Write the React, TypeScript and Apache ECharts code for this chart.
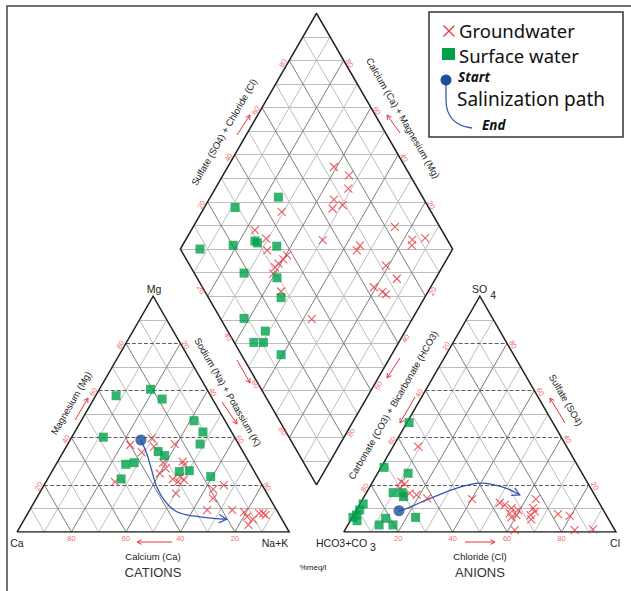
import React, { useEffect, useRef } from "react";
import * as echarts from "echarts";

// ---------------- Data (percent of meq/l) ----------------
const TICK_VALUES = [20, 40, 60, 80];
const GRID_PERCENTS = [10, 20, 30, 40, 50, 60, 70, 80, 90];
const DIAMOND_LEVELS = [10, 20, 30, 40, 50, 60, 70, 80, 90, 100, 110, 120, 130, 140, 150, 160, 170, 180, 190];

// Cations: [Ca, Mg, Na+K]
const groundwaterCations = [
  [30.7, 39.7, 29.6], [40.0, 36.9, 23.1], [37.3, 33.8, 28.9], [31.6, 36.2, 32.2],
  [23.4, 37.3, 39.3], [31.6, 29.4, 39.0], [31.9, 27.0, 41.1], [35.1, 24.9, 40.0],
  [24.2, 29.8, 46.0], [24.5, 28.4, 47.1], [31.6, 22.4, 46.0], [30.2, 21.3, 48.5],
  [27.6, 22.1, 50.3], [28.3, 23.5, 48.2], [53.4, 21.3, 25.3], [33.4, 16.4, 50.2],
  [18.9, 18.1, 63.0], [14.1, 19.9, 66.0], [20.9, 14.3, 64.8], [25.5, 9.3, 65.2],
  [16.3, 9.3, 74.4], [12.4, 8.4, 79.2], [12.3, 6.5, 81.2], [10.7, 5.4, 83.9],
  [13.5, 3.0, 83.5], [7.1, 7.9, 85.0], [5.6, 7.9, 86.5], [5.1, 7.2, 87.7],
];
const surfaceCations = [
  [20.7, 60.5, 18.8], [18.5, 56.4, 25.1], [34.7, 57.8, 7.5], [11.4, 47.2, 41.4],
  [10.5, 42.4, 47.1], [14.1, 37.3, 48.6], [48.2, 40.2, 11.6], [31.1, 34.1, 34.8],
  [29.6, 32.4, 38.0], [45.7, 28.7, 25.6], [42.3, 29.4, 28.3], [50.5, 22.5, 27.0],
  [27.6, 25.6, 46.8], [23.7, 26.0, 50.3], [17.1, 23.5, 59.4],
];

// Anions: [HCO3+CO3, SO4, Cl]
const groundwaterAnions = [
  [54.6, 36.2, 9.2], [68.2, 21.3, 10.5], [67.4, 20.4, 12.2], [70.2, 18.5, 11.3],
  [70.7, 15.0, 14.3], [67.6, 16.4, 16.0], [65.4, 15.7, 18.9], [62.2, 14.3, 23.5],
  [45.9, 13.9, 40.2], [36.5, 12.4, 51.1], [35.1, 11.5, 53.4], [33.3, 10.1, 56.6],
  [31.3, 9.3, 59.4], [35.1, 7.9, 57.0], [33.0, 7.2, 59.8], [35.3, 6.2, 58.5],
  [22.5, 13.9, 63.6], [25.4, 10.1, 64.5], [25.5, 8.6, 65.9], [27.8, 7.2, 65.0],
  [28.4, 5.4, 66.2], [17.5, 7.6, 74.9], [13.6, 6.8, 79.6], [36.8, 0.8, 62.4],
  [14.8, 0.8, 84.4], [7.9, 1.1, 91.0],
];
const surfaceAnions = [
  [52.8, 46.4, 0.8], [71.5, 27.4, 1.1], [63.9, 24.9, 11.2], [73.5, 16.7, 9.8],
  [70.2, 16.7, 13.1], [70.5, 15.0, 14.5], [86.9, 11.9, 1.2], [89.5, 9.3, 1.2],
  [91.7, 7.2, 1.1], [93.5, 6.2, 0.3], [92.7, 4.8, 2.5], [81.7, 5.8, 12.5],
  [85.5, 3.0, 11.5], [80.4, 3.0, 16.6], [70.5, 6.2, 23.3],
];

// Diamond: [Ca+Mg, SO4+Cl]
const groundwaterDiamond = [
  [61.0, 73.8], [53.7, 77.5], [51.1, 74.5], [54.1, 66.9], [49.7, 68.9], [52.7, 64.5],
  [70.7, 45.1], [25.9, 83.5], [12.4, 92.2], [16.8, 87.2], [15.8, 85.8], [34.8, 66.8],
  [34.9, 64.5], [49.6, 54.2], [76.6, 31.4], [70.7, 33.7], [67.8, 31.6], [59.5, 37.9],
  [60.0, 35.6], [60.9, 32.9], [61.3, 30.9], [60.7, 28.9], [21.0, 72.0], [14.2, 73.2],
  [20.8, 63.0], [16.7, 65.1], [14.9, 65.9], [54.0, 28.0], [36.9, 33.4],
];
const surfaceDiamond = [
  [75.0, 47.0], [88.7, 28.9], [92.8, 7.2], [81.4, 20.2], [74.3, 29.1], [73.0, 29.6],
  [65.2, 36.0], [71.5, 18.3], [58.4, 29.4], [52.7, 26.7], [61.9, 8.7], [51.4, 13.8],
  [53.2, 7.2], [49.7, 10.7], [40.6, 14.6],
];

// Salinization paths
const cationPath = [ // [Ca, Mg, Na+K]
  [35.0, 39.0, 26.0], [35.7, 33.4, 30.9], [37.4, 26.3, 36.3], [39.1, 19.2, 41.7],
  [39.1, 12.9, 48.0], [37.0, 8.6, 54.4], [31.8, 6.8, 61.4], [25.0, 5.8, 69.2],
  [20.3, 5.4, 74.3],
];
const anionPath = [ // [HCO3+CO3, SO4, Cl]
  [75.2, 9.0, 15.8], [72.0, 9.9, 18.1], [65.9, 12.4, 21.7], [58.3, 15.3, 26.4],
  [50.8, 18.1, 31.1], [43.7, 20.1, 36.2], [39.1, 20.7, 40.2], [35.1, 20.1, 44.8],
  [31.0, 18.5, 50.5], [27.5, 15.7, 56.8],
];

// ---------------- Geometry (diagram units, triangle side = 100) ----------------
const GAP = 20;
const H = Math.sqrt(3) / 2;
const X_MAX = 200 + GAP;
const Y_MAX = (200 + GAP) * H;

// generic triangle: top and right percentages (left = remainder)
const tri = (ox: number, top: number, right: number) => [ox + right + top / 2, top * H];
const cationXY = (p: number[]) => tri(0, p[1], p[2]);
const anionXY = (p: number[]) => tri(100 + GAP, p[1], p[2]);
const diamondXY = (caMg: number, so4Cl: number) => [
  100 + GAP / 2 + (so4Cl - caMg) / 2,
  GAP * H + (so4Cl + caMg) * H,
];

const FONT = "Liberation Sans, Arial, sans-serif";
const RED = "#e8343c";
const GREEN = "#00a14b";
const BLUE = "#3556b0";
const DOT = "#1f4e9c";
const TICK_RED = "#f03c3c";

function buildOption() {
  const light: any[] = [];
  const dark: any[] = [];
  const dash: any[] = [];
  const seg = (a: number[], b: number[]) => ({ coords: [a, b] });

  [0, 100 + GAP].forEach((ox) => {
    GRID_PERCENTS.forEach((k) => {
      const even = k % 20 === 0;
      const h = seg(tri(ox, k, 0), tri(ox, k, 100 - k));
      const r = seg(tri(ox, 0, k), tri(ox, 100 - k, k));
      const l = seg(tri(ox, 0, 100 - k), tri(ox, 100 - k, 0));
      (even ? dash : light).push(h);
      (even ? dark : light).push(r, l);
    });
  });
  GRID_PERCENTS.forEach((k) => {
    const even = k % 20 === 0;
    (even ? dark : light).push(seg(diamondXY(0, k), diamondXY(100, k)));
    (even ? dark : light).push(seg(diamondXY(k, 0), diamondXY(k, 100)));
  });
  DIAMOND_LEVELS.forEach((s) => {
    if (s <= 100) light.push(seg(diamondXY(s, 0), diamondXY(0, s)));
    else light.push(seg(diamondXY(100, s - 100), diamondXY(s - 100, 100)));
  });

  const outlines = [
    { coords: [tri(0, 0, 0), tri(0, 0, 100), tri(0, 100, 0), tri(0, 0, 0)] },
    { coords: [tri(100 + GAP, 0, 0), tri(100 + GAP, 0, 100), tri(100 + GAP, 100, 0), tri(100 + GAP, 0, 0)] },
    { coords: [diamondXY(0, 0), diamondXY(0, 100), diamondXY(100, 100), diamondXY(100, 0), diamondXY(0, 0)] },
  ];

  // tick labels
  const ticks: any[] = [];
  const tick = (pos: number[], v: number, rotate: number, offset: number[]) =>
    ticks.push({ name: String(v), value: pos, label: { rotate, offset } });
  TICK_VALUES.forEach((t) => {
    // cations
    tick(tri(0, 0, 100 - t), t, 0, [0, 6]); // Calcium
    tick(tri(0, t, 0), t, 60, [-4, -4]); // Magnesium
    tick(tri(0, 100 - t, t), t, -60, [4, -3.5]); // Na+K
    // anions
    tick(tri(100 + GAP, 0, t), t, 0, [0, 6]); // Chloride
    tick(tri(100 + GAP, 100 - t, 0), t, 60, [-5.5, -4]); // CO3+HCO3
    tick(tri(100 + GAP, t, 100 - t), t, -60, [4, -4.5]); // Sulfate
    // diamond
    tick(diamondXY(100, t), t, 60, [-5.5, -4]); // SO4+Cl (upper-left)
    tick(diamondXY(t, 100), t, -60, [5.5, -3.5]); // Ca+Mg (upper-right)
    tick(diamondXY(100 - t, 0), t, -60, [-9, 2.5]); // Na+K (lower-left)
    tick(diamondXY(0, 100 - t), t, 60, [8, 4]); // CO3+HCO3 (lower-right)
  });

  const cPath = cationPath.map(cationXY);
  const aPath = anionPath.map(anionXY);
  const chevron = (pts: number[][]) => {
    const tip = pts[pts.length - 1];
    const prev = pts[pts.length - 2];
    const ang = Math.atan2(tip[1] - prev[1], tip[0] - prev[0]);
    const L = 3.2;
    const A = 0.5;
    return {
      coords: [
        [tip[0] - L * Math.cos(ang - A), tip[1] - L * Math.sin(ang - A)],
        tip,
        [tip[0] - L * Math.cos(ang + A), tip[1] - L * Math.sin(ang + A)],
      ],
    };
  };

  const gwPoints = [
    ...groundwaterCations.map(cationXY),
    ...groundwaterAnions.map(anionXY),
    ...groundwaterDiamond.map((p) => diamondXY(p[0], p[1])),
  ];
  const swPoints = [
    ...surfaceCations.map(cationXY),
    ...surfaceAnions.map(anionXY),
    ...surfaceDiamond.map((p) => diamondXY(p[0], p[1])),
  ];

  // ----- graphics (labels, axis arrows, legend) in pixels -----
  const g: any[] = [];
  const text = (x: number, y: number, t: string, size: number, extra: any = {}, rotDeg = 0) =>
    g.push({
      type: "text",
      x,
      y,
      rotation: (rotDeg * Math.PI) / 180,
      z: 20,
      style: {
        text: t,
        fontSize: size,
        fontFamily: FONT,
        fill: "#222",
        align: "center",
        verticalAlign: "middle",
        ...extra,
      },
    });
  const arrow = (x1: number, y1: number, x2: number, y2: number, color = RED, lw = 1) => {
    const ang = Math.atan2(y2 - y1, x2 - x1);
    const L = 5;
    const A = 0.5;
    g.push({ type: "line", z: 20, shape: { x1, y1, x2, y2 }, style: { stroke: color, lineWidth: lw } });
    g.push({
      type: "polyline",
      z: 20,
      shape: {
        points: [
          [x2 - L * Math.cos(ang - A), y2 - L * Math.sin(ang - A)],
          [x2, y2],
          [x2 - L * Math.cos(ang + A), y2 - L * Math.sin(ang + A)],
        ],
      },
      style: { stroke: color, lineWidth: lw, fill: "none" },
    });
  };

  // frame
  g.push({
    type: "rect",
    z: 0,
    shape: { x: 7, y: 6, width: 700, height: 700 },
    style: { stroke: "#444", lineWidth: 1.5, fill: "none" },
  });

  // vertex labels
  text(154, 289, "Mg", 10.5);
  text(17, 543, "Ca", 10.5);
  text(275, 543, "Na+K", 10.5);
  g.push({
    type: "text",
    x: 472,
    y: 289,
    z: 20,
    style: {
      text: "SO{s|4}",
      fontSize: 10.5,
      fontFamily: FONT,
      fill: "#222",
      align: "left",
      verticalAlign: "middle",
      rich: { s: { fontSize: 10.5, fontFamily: FONT, fill: "#222", padding: [12, 0, 0, 3] } },
    },
  });
  g.push({
    type: "text",
    x: 316,
    y: 543,
    z: 20,
    style: {
      text: "HCO3+CO{s|3}",
      fontSize: 10.5,
      fontFamily: FONT,
      fill: "#222",
      align: "left",
      verticalAlign: "middle",
      rich: { s: { fontSize: 10.5, fontFamily: FONT, fill: "#222", padding: [8, 0, 0, 3] } },
    },
  });
  text(615, 543, "Cl", 10.5);

  // axis titles
  text(153, 556, "Calcium (Ca)", 9.5);
  text(480, 556, "Chloride (Cl)", 9.5);
  text(153, 572, "CATIONS", 13, { fill: "#333" });
  text(480, 572, "ANIONS", 13, { fill: "#333" });
  text(313, 567, "%meq/l", 8);
  text(71, 403, "Magnesium (Mg)", 9.5, {}, 60);
  text(228, 392, "Sodium (Na) + Potassium (K)", 9.5, {}, -60);
  text(224, 132, "Sulfate (SO4) + Chloride (Cl)", 9.5, {}, 60);
  text(403, 118, "Calcium (Ca) + Magnesium (Mg)", 9.5, {}, -60);
  text(393, 405, "Carbonate (CO3) + Bicarbonate (HCO3)", 9.5, {}, 60);
  text(566, 400, "Sulfate (SO4)", 9.5, {}, -60);

  // red axis arrows
  arrow(172, 542, 137, 542);
  arrow(75, 420, 88, 398);
  arrow(237, 360, 250, 383);
  arrow(222, 402, 237, 424);
  arrow(237, 135, 250, 115);
  arrow(400, 133, 387, 115);
  arrow(400, 358, 387, 378);
  arrow(415, 397, 400, 423);
  arrow(465, 542, 495, 542);
  arrow(565, 423, 550, 398);

  // legend
  g.push({
    type: "rect",
    z: 30,
    shape: { x: 429, y: 12, width: 194, height: 125 },
    style: { stroke: "#333", lineWidth: 1.5, fill: "#fff" },
  });
  g.push({ type: "line", z: 31, shape: { x1: 443.5, y1: 25.5, x2: 454.5, y2: 36.5 }, style: { stroke: RED, lineWidth: 1.2 } });
  g.push({ type: "line", z: 31, shape: { x1: 454.5, y1: 25.5, x2: 443.5, y2: 36.5 }, style: { stroke: RED, lineWidth: 1.2 } });
  g.push({ type: "rect", z: 31, shape: { x: 442, y: 48, width: 13, height: 12 }, style: { fill: GREEN } });
  const legendFont = "Noto Sans, Open Sans, sans-serif";
  const ltext = (x: number, y: number, t: string, size: number, extra: any = {}) =>
    g.push({
      type: "text",
      x,
      y,
      z: 31,
      style: {
        text: t,
        fontSize: size,
        lineHeight: Math.round(size * 1.05),
        fontFamily: legendFont,
        fill: "#111",
        align: "left",
        verticalAlign: "middle",
        ...extra,
      },
    });
  ltext(459, 30, "Groundwater", 18.5);
  ltext(459, 55, "Surface water", 18.5);
  ltext(458, 77, "Start", 13.5, { fontStyle: "italic", fontWeight: "bold" });
  ltext(457, 99, "Salinization path", 19);
  ltext(482, 125, "End", 13.5, { fontStyle: "italic", fontWeight: "bold" });
  g.push({
    type: "line",
    z: 31,
    shape: { x1: 446, y1: 82, x2: 446, y2: 100 },
    style: { stroke: BLUE, lineWidth: 1.3 },
  });
  g.push({
    type: "bezierCurve",
    z: 31,
    shape: { x1: 446, y1: 100, cpx1: 446, cpy1: 116, cpx2: 455, cpy2: 126, x2: 472, y2: 128 },
    style: { stroke: BLUE, lineWidth: 1.3, fill: "none" },
  });
  arrow(464, 127, 473, 128, BLUE, 1.3);
  g.push({ type: "circle", z: 32, shape: { cx: 446, cy: 80, r: 5.5 }, style: { fill: DOT } });

  const crossPath = "path://M0,0L10,10M10,0L0,10";

  return {
    animation: false,
    backgroundColor: "#fff",
    grid: { left: 17, right: 15, top: 591 - 59 - Y_MAX * (599 / X_MAX), bottom: 59, containLabel: false },
    xAxis: { type: "value", min: 0, max: X_MAX, show: false },
    yAxis: { type: "value", min: 0, max: Y_MAX, show: false },
    graphic: g,
    series: [
      {
        type: "lines",
        coordinateSystem: "cartesian2d",
        silent: true,
        z: 1,
        lineStyle: { color: "#bdbdbd", width: 1, opacity: 1 },
        data: light,
      },
      {
        type: "lines",
        coordinateSystem: "cartesian2d",
        silent: true,
        z: 2,
        lineStyle: { color: "#7c7c7c", width: 1, opacity: 1 },
        data: dark,
      },
      {
        type: "lines",
        coordinateSystem: "cartesian2d",
        silent: true,
        z: 2,
        lineStyle: { color: "#5e5e5e", width: 1, type: [4, 2], opacity: 1 },
        data: dash,
      },
      {
        type: "lines",
        coordinateSystem: "cartesian2d",
        polyline: true,
        silent: true,
        z: 3,
        lineStyle: { color: "#222", width: 1.5, opacity: 1 },
        data: outlines,
      },
      {
        type: "scatter",
        silent: true,
        z: 4,
        clip: false,
        symbol: "circle",
        symbolSize: 1,
        itemStyle: { color: "transparent" },
        label: {
          show: true,
          position: "inside",
          formatter: "{b}",
          fontSize: 7.5,
          color: TICK_RED,
          fontFamily: FONT,
        },
        data: ticks,
      },
      {
        type: "line",
        silent: true,
        z: 6,
        clip: false,
        smooth: 0.4,
        showSymbol: false,
        lineStyle: { color: BLUE, width: 1.3 },
        data: cPath,
      },
      {
        type: "line",
        silent: true,
        z: 6,
        clip: false,
        smooth: 0.4,
        showSymbol: false,
        lineStyle: { color: BLUE, width: 1.3 },
        data: aPath,
      },
      {
        type: "lines",
        coordinateSystem: "cartesian2d",
        polyline: true,
        silent: true,
        z: 6,
        lineStyle: { color: BLUE, width: 1.3, opacity: 1 },
        data: [chevron(cPath), chevron(aPath)],
      },
      {
        name: "Groundwater",
        type: "scatter",
        silent: true,
        z: 7,
        clip: false,
        symbol: crossPath,
        symbolSize: 8,
        itemStyle: { color: "none", borderColor: RED, borderWidth: 1.1 },
        data: gwPoints,
      },
      {
        name: "Surface water",
        type: "scatter",
        silent: true,
        z: 8,
        clip: false,
        symbol: "rect",
        symbolSize: 9,
        itemStyle: { color: GREEN },
        data: swPoints,
      },
      {
        name: "Start",
        type: "scatter",
        silent: true,
        z: 9,
        clip: false,
        symbol: "circle",
        symbolSize: 11,
        itemStyle: { color: DOT },
        data: [cPath[0], aPath[0]],
      },
    ],
  };
}

export default function App() {
  const ref = useRef<HTMLDivElement>(null);
  useEffect(() => {
    document.body.style.margin = "0";
    const chart = echarts.init(ref.current as HTMLDivElement, undefined, { renderer: "svg" });
    chart.setOption(buildOption() as any);
    return () => chart.dispose();
  }, []);
  return <div ref={ref} style={{ width: 631, height: 591, background: "#fff" }} />;
}
